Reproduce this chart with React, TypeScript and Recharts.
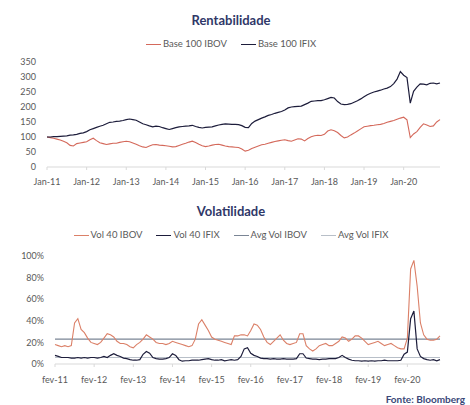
import { LineChart, Line, XAxis, YAxis } from "recharts";

// month abbreviations and years used to build the category keys
const monthNames = ["jan", "fev", "mar", "abr", "mai", "jun", "jul", "ago", "set", "out", "nov", "dez"];
const years = ["11", "12", "13", "14", "15", "16", "17", "18", "19", "20"];

// Rentabilidade: base 100, monthly from Jan-11
const ibovBase100 = [
  100, 98, 96, 93, 90, 86, 81, 72, 70, 78, 80, 82,
  84, 91, 96, 88, 81, 78, 75, 77, 79, 79, 82, 84,
  86, 84, 80, 76, 71, 67, 65, 70, 74, 75, 73, 72,
  71, 69, 67, 68, 72, 76, 79, 83, 86, 82, 76, 71,
  68, 70, 73, 75, 76, 73, 70, 68, 67, 66, 65, 60,
  53, 56, 62, 66, 70, 74, 76, 79, 82, 85, 87, 89,
  91, 88, 86, 90, 94, 93, 87, 95, 101, 104, 106, 105,
  109, 120, 124, 121, 115, 105, 97, 100, 107, 113, 120, 127,
  134, 136, 138, 139, 141, 142, 145, 149, 152, 155, 159, 163,
  166, 157, 98, 110, 118, 132, 144, 140, 135, 137, 150, 158,
];
const ifixBase100 = [
  100, 100, 101, 101, 102, 103, 104, 106, 107, 109, 112, 114,
  118, 124, 128, 132, 136, 139, 144, 149, 150, 152, 153, 155,
  158, 160, 158, 156, 150, 144, 141, 137, 134, 136, 135, 131,
  128, 125, 128, 131, 134, 135, 136, 137, 139, 135, 132, 130,
  132, 133, 134, 137, 140, 142, 144, 143, 142, 142, 141, 138,
  132, 131, 145, 153, 158, 163, 167, 172, 175, 179, 182, 185,
  190, 197, 200, 201, 202, 203, 208, 213, 219, 220, 221, 221,
  224, 228, 232, 230, 218, 210, 208, 209, 211, 216, 221, 227,
  234, 241, 246, 250, 253, 256, 260, 263, 268, 278, 293, 318,
  306, 298, 213, 252, 266, 277, 276, 274, 279, 280, 277, 280,
];
const rentTicks = [0, 50, 100, 150, 200, 250, 300, 350];

// Volatilidade (%), monthly from fev-11
const vol40Ibov = [
  18, 17, 16, 17, 16, 17, 38, 42, 32, 29, 24, 20,
  19, 18, 20, 24, 28, 27, 25, 21, 19, 19, 18, 16,
  15, 18, 20, 23, 27, 25, 23, 20, 19, 19, 18, 19,
  21, 20, 19, 18, 17, 16, 17, 23, 37, 41, 36, 31,
  25, 23, 22, 21, 20, 19, 18, 26, 26, 27, 27, 26,
  31, 37, 36, 32, 25, 20, 18, 21, 24, 27, 22, 19,
  18, 19, 20, 28, 28, 17, 14, 12, 14, 17, 18, 19,
  17, 17, 19, 21, 25, 24, 21, 23, 26, 26, 24, 21,
  18, 19, 20, 21, 19, 17, 18, 19, 17, 15, 14, 14,
  24, 88, 96, 72, 38, 27, 23, 22, 22, 23, 26,
];
const vol40Ifix = [
  8, 7, 6, 6, 6, 5.5, 5.5, 6, 5.5, 6, 5.5, 6,
  6, 5.5, 6, 7, 6, 8, 9.5, 8, 7, 5.5, 5, 4,
  3.5, 3.5, 4, 9, 11.5, 10, 6, 5, 4.5, 4.5, 5, 6,
  9.5, 8, 4, 2.6, 3, 3, 3.5, 3.5, 3.5, 4, 4.5, 5,
  4, 3.5, 3.5, 4, 3, 3.5, 4, 3.5, 4, 7, 14, 15,
  10, 8, 7, 5.5, 5, 5, 4.5, 5, 4.5, 4.5, 5, 4.5,
  4.5, 4.5, 5, 9.5, 9.5, 5.5, 5, 4.5, 4.5, 4, 4.5, 4.5,
  5, 5, 5, 6, 8, 6, 4.5, 3.5, 3, 3, 2.6, 3,
  2.6, 3, 2.6, 3, 3, 3.5, 3, 3, 3, 3, 3.5, 9,
  11, 42, 49, 14, 7, 5, 4, 3.5, 4, 3, 4,
];
const avgVolIbov = 23;
const avgVolIfix = 6;
const volTicks = [0, 20, 40, 60, 80, 100];

const rentData = ibovBase100.map((v, i) => {
  const m = monthNames[i % 12];
  return {
    label: `${m[0].toUpperCase()}${m.slice(1)}-${years[Math.floor(i / 12)]}`,
    ibov: v,
    ifix: ifixBase100[i],
  };
});

const volData = vol40Ibov.map((v, i) => ({
  label: `${monthNames[(i + 1) % 12]}-${years[Math.floor((i + 1) / 12)]}`,
  ibov: v,
  ifix: vol40Ifix[i],
  avgIbov: avgVolIbov,
  avgIfix: avgVolIfix,
}));

const RED = "#d4695b";
const SALMON = "#db8068";
const NAVY = "#1d1d3b";
const SLATE = "#7a8595";
const LIGHT = "#b8bfc8";
const GREY_TEXT = "#595959";
const AXIS = "#d9d9d9";
const TITLE = "#2f3868";

const tick = { fontSize: 9, fill: GREY_TEXT, fontFamily: "Lato, sans-serif" };

function Title({ text, top }: { text: string; top: number }) {
  return (
    <div
      style={{
        position: "absolute",
        top,
        left: 0,
        width: 462,
        textAlign: "center",
        fontSize: 13,
        lineHeight: "16px",
        fontWeight: 700,
        color: TITLE,
      }}
    >
      {text}
    </div>
  );
}

function LegendRow({ top, items }: { top: number; items: Array<{ label: string; color: string }> }) {
  return (
    <div
      style={{
        position: "absolute",
        top,
        left: 0,
        width: 462,
        display: "flex",
        justifyContent: "center",
        gap: 14,
        fontSize: 9.5,
        lineHeight: "12px",
        color: GREY_TEXT,
      }}
    >
      {items.map((it) => (
        <div key={it.label} style={{ display: "flex", alignItems: "center" }}>
          <span style={{ width: 15, height: 1, background: it.color, marginRight: 2 }} />
          <span>{it.label}</span>
        </div>
      ))}
    </div>
  );
}

export default function App() {
  return (
    <div
      style={{
        position: "absolute",
        left: 0,
        top: 0,
        width: 470,
        height: 405,
        background: "#fff",
        fontFamily: "Lato, sans-serif",
      }}
    >
      <Title text="Rentabilidade" top={12} />
      <LegendRow
        top={38}
        items={[
          { label: "Base 100 IBOV", color: RED },
          { label: "Base 100 IFIX", color: NAVY },
        ]}
      />
      <div style={{ position: "absolute", left: 0, top: 0 }}>
        <LineChart width={470} height={200} data={rentData} margin={{ top: 62, right: 30, left: 0, bottom: 3 }}>
          <XAxis
            dataKey="label"
            interval={11}
            tick={tick}
            tickSize={3}
            tickMargin={9}
            axisLine={{ stroke: AXIS }}
            tickLine={{ stroke: AXIS }}
          />
          <YAxis
            width={47}
            domain={[0, 350]}
            ticks={rentTicks}
            interval={0}
            tick={tick}
            tickSize={0}
            tickMargin={11}
            axisLine={false}
            tickLine={false}
          />
          <Line dataKey="ibov" stroke={RED} strokeWidth={1.1} dot={false} isAnimationActive={false} />
          <Line dataKey="ifix" stroke={NAVY} strokeWidth={1.2} dot={false} isAnimationActive={false} />
        </LineChart>
      </div>

      <Title text="Volatilidade" top={203} />
      <LegendRow
        top={229}
        items={[
          { label: "Vol 40 IBOV", color: SALMON },
          { label: "Vol 40 IFIX", color: NAVY },
          { label: "Avg Vol IBOV", color: SLATE },
          { label: "Avg Vol IFIX", color: LIGHT },
        ]}
      />
      <div style={{ position: "absolute", left: 0, top: 200 }}>
        <LineChart width={470} height={200} data={volData} margin={{ top: 56, right: 30, left: 0, bottom: 6 }}>
          <XAxis
            dataKey="label"
            interval={11}
            tick={tick}
            tickSize={3}
            tickMargin={10}
            axisLine={{ stroke: AXIS }}
            tickLine={{ stroke: AXIS }}
          />
          <YAxis
            width={55}
            domain={[0, 100]}
            ticks={volTicks}
            interval={0}
            tickFormatter={(v: number) => `${v}%`}
            tick={tick}
            tickSize={0}
            tickMargin={11}
            axisLine={false}
            tickLine={false}
          />
          <Line dataKey="avgIfix" stroke={LIGHT} strokeWidth={1.2} dot={false} isAnimationActive={false} />
          <Line dataKey="avgIbov" stroke={SLATE} strokeWidth={1.2} dot={false} isAnimationActive={false} />
          <Line dataKey="ibov" stroke={SALMON} strokeWidth={1.1} dot={false} isAnimationActive={false} />
          <Line dataKey="ifix" stroke={NAVY} strokeWidth={1.2} dot={false} isAnimationActive={false} />
        </LineChart>
      </div>

      <div
        style={{
          position: "absolute",
          right: 5,
          top: 393,
          fontSize: 10,
          lineHeight: "12px",
          fontWeight: 700,
          color: "#3a4777",
        }}
      >
        Fonte: Bloomberg
      </div>
    </div>
  );
}
